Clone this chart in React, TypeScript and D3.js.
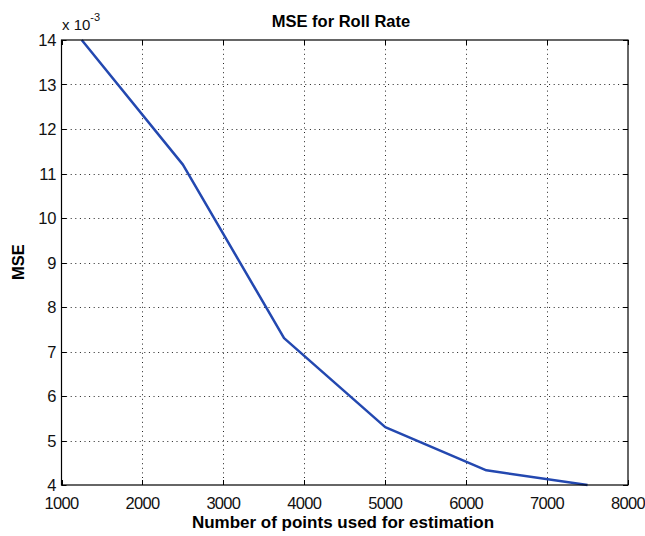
import React from "react";
import * as d3 from "d3";

const xValues = [1250, 2500, 3750, 5000, 6250, 7500];
const mseValues = [14.0, 11.2, 7.3, 5.3, 4.33, 4.0];
const xTicks = [1000, 2000, 3000, 4000, 5000, 6000, 7000, 8000];
const yTicks = [4, 5, 6, 7, 8, 9, 10, 11, 12, 13, 14];

const W = 645;
const H = 536;
const M = { left: 61.5, right: 628, top: 40, bottom: 485 };
const FONT = "'Liberation Sans', Arial, sans-serif";

export default function App() {
  const x = d3.scaleLinear().domain([1000, 8000]).range([M.left, M.right]);
  const y = d3.scaleLinear().domain([4, 14]).range([M.bottom, M.top]);
  const line = d3
    .line<number>()
    .x((_, i) => x(xValues[i]))
    .y((d) => y(d));
  const path = line(mseValues) || "";
  const tl = 5;
  return (
    <svg
      width={W}
      height={H}
      style={{ position: "absolute", left: 0, top: 0, background: "#fff" }}
    >
      <rect x={0} y={0} width={W} height={H} fill="#fff" />
      {/* grid */}
      <g stroke="#222" strokeWidth={1} strokeDasharray="1,3.6">
        {xTicks.slice(1, -1).map((t) => (
          <line key={"gx" + t} x1={Math.round(x(t)) + 0.5} x2={Math.round(x(t)) + 0.5} y1={M.top} y2={M.bottom} />
        ))}
        {yTicks.slice(1, -1).map((t) => (
          <line key={"gy" + t} x1={M.left} x2={M.right} y1={Math.round(y(t)) + 0.5} y2={Math.round(y(t)) + 0.5} />
        ))}
      </g>
      {/* ticks */}
      <g stroke="#000" strokeWidth={1}>
        {xTicks.map((t) => (
          <g key={"tx" + t}>
            <line x1={Math.round(x(t)) + 0.5} x2={Math.round(x(t)) + 0.5} y1={M.bottom} y2={M.bottom - tl} />
            <line x1={Math.round(x(t)) + 0.5} x2={Math.round(x(t)) + 0.5} y1={M.top} y2={M.top + tl} />
          </g>
        ))}
        {yTicks.map((t) => (
          <g key={"ty" + t}>
            <line x1={M.left} x2={M.left + tl} y1={Math.round(y(t)) + 0.5} y2={Math.round(y(t)) + 0.5} />
            <line x1={M.right} x2={M.right - tl} y1={Math.round(y(t)) + 0.5} y2={Math.round(y(t)) + 0.5} />
          </g>
        ))}
      </g>
      {/* data line */}
      <path d={path} fill="none" stroke="#2348b0" strokeWidth={2.5} strokeLinejoin="round" />
      {/* box */}
      <rect
        x={M.left}
        y={M.top}
        width={M.right - M.left}
        height={M.bottom - M.top}
        fill="none"
        stroke="#000"
        strokeWidth={1.2}
      />
      {/* tick labels */}
      <g fontFamily={FONT} fontSize={16.5} fill="#111">
        {xTicks.map((t) => (
          <text key={"lx" + t} x={x(t)} y={509} textAnchor="middle" letterSpacing={-0.7}>
            {t}
          </text>
        ))}
        {yTicks.map((t) => (
          <text key={"ly" + t} x={M.left - 5} y={y(t) + 6} textAnchor="end">
            {t}
          </text>
        ))}
        <text x={62} y={30} fontSize={15}>
          x 10
          <tspan dy={-9} fontSize={11}>
            -3
          </tspan>
        </text>
      </g>
      {/* title and axis labels */}
      <g fontFamily={FONT} fontWeight="bold" fill="#000">
        <text x={341} y={27} textAnchor="middle" fontSize={16.5}>
          MSE for Roll Rate
        </text>
        <text x={343} y={528} textAnchor="middle" fontSize={17}>
          Number of points used for estimation
        </text>
        <text
          transform={`translate(24, 262) rotate(-90)`}
          textAnchor="middle"
          fontSize={16.5}
        >
          MSE
        </text>
      </g>
    </svg>
  );
}
